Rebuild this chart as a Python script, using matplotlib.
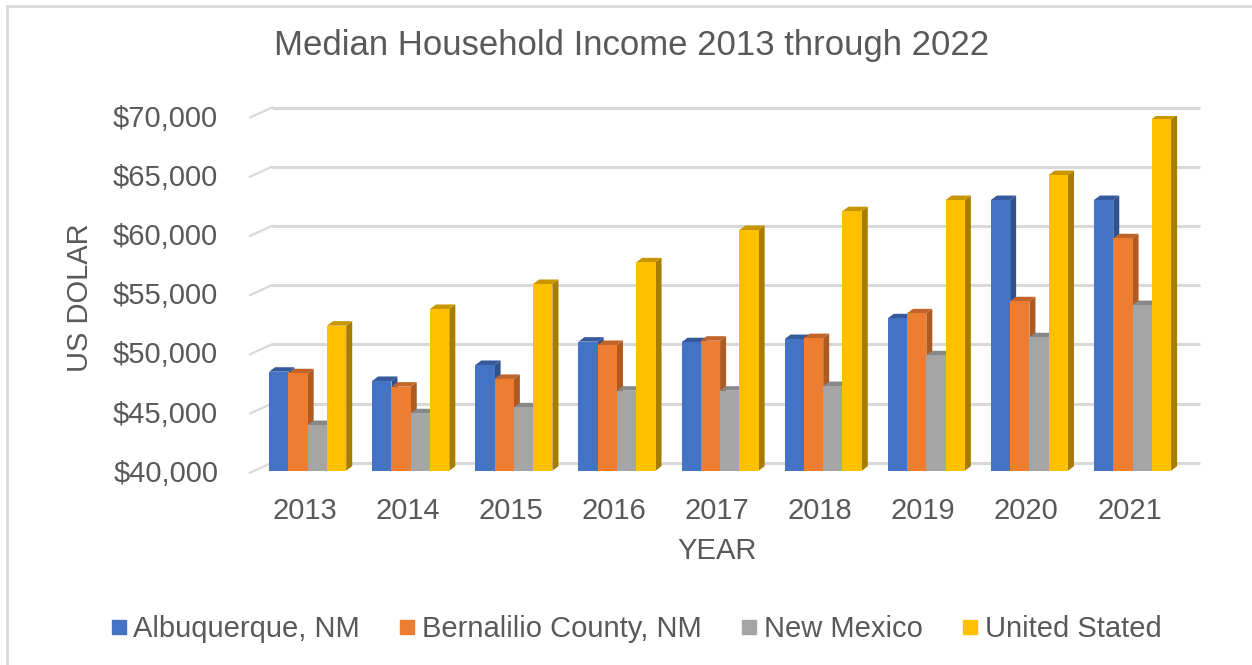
import numpy as np
import matplotlib.pyplot as plt
from matplotlib.patches import Polygon
from matplotlib.lines import Line2D

years = ["2013", "2014", "2015", "2016", "2017", "2018", "2019", "2020", "2021"]
series_names = ["Albuquerque, NM", "Bernalilio County, NM", "New Mexico", "United Stated"]

albuquerque = [48360, 47580, 48930, 50900, 50850, 51120, 52870, 62860, 62860]
bernalillo = [48230, 47100, 47750, 50620, 50980, 51200, 53290, 54310, 59630]
new_mexico = [43860, 44850, 45350, 46760, 46760, 47150, 49750, 51270, 53990]
united_states = [52250, 53660, 55770, 57600, 60330, 61920, 62860, 64970, 69700]

y_ticks = [40000, 45000, 50000, 55000, 60000, 65000, 70000]

front_colors = ["#4472C4", "#ED7D31", "#A5A5A5", "#FFC000"]
side_colors = ["#2F528F", "#AE5A21", "#7C7C7C", "#A67D00"]
top_colors = ["#35599B", "#C0642A", "#888888", "#C89600"]
text_color = "#595959"

plt.rcParams["font.family"] = ["Liberation Sans", "DejaVu Sans"]

W, H = 1252, 665
fig = plt.figure(figsize=(W / 100, H / 100), dpi=100)
ax = fig.add_axes([253 / W, 1 - 470.7 / H, 928 / W, (470.7 - 115.5) / H])
ax.set_xlim(-0.5, len(years) - 0.5)
ax.set_ylim(y_ticks[0], y_ticks[-1])

# pixel -> data conversion for the fake 3D depth
px_x = len(years) / 928.0
px_y = (y_ticks[-1] - y_ticks[0]) / (470.7 - 115.5)

wall_dx, wall_dy = 19, 8      # back wall offset in px
bar_dx, bar_dy = 6, 4.5       # bar depth in px

# back wall gridlines + diagonal ticks
for v in y_ticks:
    ax.plot([-0.5 + wall_dx * px_x, len(years) - 0.5 + wall_dx * px_x],
            [v + wall_dy * px_y] * 2, color="#D9D9D9", lw=2.2,
            clip_on=False, zorder=1, solid_capstyle="butt")
    ax.plot([-0.5 - 3 * px_x, -0.5 + wall_dx * px_x],
            [v - 2 * px_y, v + wall_dy * px_y], color="#D9D9D9", lw=1.6,
            clip_on=False, zorder=1)

data = [albuquerque, bernalillo, new_mexico, united_states]
x = np.arange(len(years))
w = 0.187
for i, vals in enumerate(data):
    left = x + (i - 2) * w + 0.03
    for xl, v in zip(left, vals):
        xr = xl + w
        ddx, ddy = bar_dx * px_x, bar_dy * px_y
        side = Polygon([(xr, y_ticks[0]), (xr + ddx, y_ticks[0] + ddy),
                        (xr + ddx, v + ddy), (xr, v)],
                       closed=True, fc=side_colors[i], ec="none",
                       zorder=3 + i)
        top = Polygon([(xl, v), (xl + ddx, v + ddy), (xr + ddx, v + ddy),
                       (xr, v)], closed=True, fc=top_colors[i], ec="none",
                      zorder=3 + i)
        ax.add_patch(side)
        ax.add_patch(top)
    ax.bar(left, np.array(vals) - y_ticks[0], bottom=y_ticks[0], width=w,
           align="edge", color=front_colors[i], zorder=3 + i)

for s in ax.spines.values():
    s.set_visible(False)
ax.set_yticks(y_ticks)
ax.set_yticklabels(["${:,}".format(v) for v in y_ticks])
ax.set_xticks(x)
ax.set_xticklabels(years)
ax.tick_params(length=0, labelsize=21, labelcolor=text_color)
ax.tick_params(axis="y", pad=25)
ax.tick_params(axis="x", pad=19)

fig.text(80 / W, 1 - 298 / H, "US DOLAR", rotation=90, ha="center",
         va="center", fontsize=21, color=text_color)
fig.text(717 / W, 1 - 551 / H, "YEAR", ha="center", va="center",
         fontsize=21, color=text_color)
fig.text(632 / W, 1 - 46 / H, "Median Household Income 2013 through 2022",
         ha="center", va="center", fontsize=25, color=text_color)

handles = [Line2D([], [], marker="s", ls="none", markersize=10,
                  markerfacecolor=c, markeredgecolor=c) for c in front_colors]
fig.legend(handles, series_names, loc="center", bbox_to_anchor=(635 / W, 1 - 629 / H),
           ncol=4, frameon=False, fontsize=21, labelcolor=text_color,
           handletextpad=0.15, columnspacing=1.28, handlelength=0.7)

# chart frame: only left and top edges are inside the picture
fig.add_artist(Line2D([7 / W, 7 / W], [0, 1 - 6 / H], transform=fig.transFigure,
                      color="#D9D9D9", lw=2))
fig.add_artist(Line2D([7 / W, 1], [1 - 6 / H, 1 - 6 / H], transform=fig.transFigure,
                      color="#D9D9D9", lw=2))

fig.savefig("out.png", dpi=100)
